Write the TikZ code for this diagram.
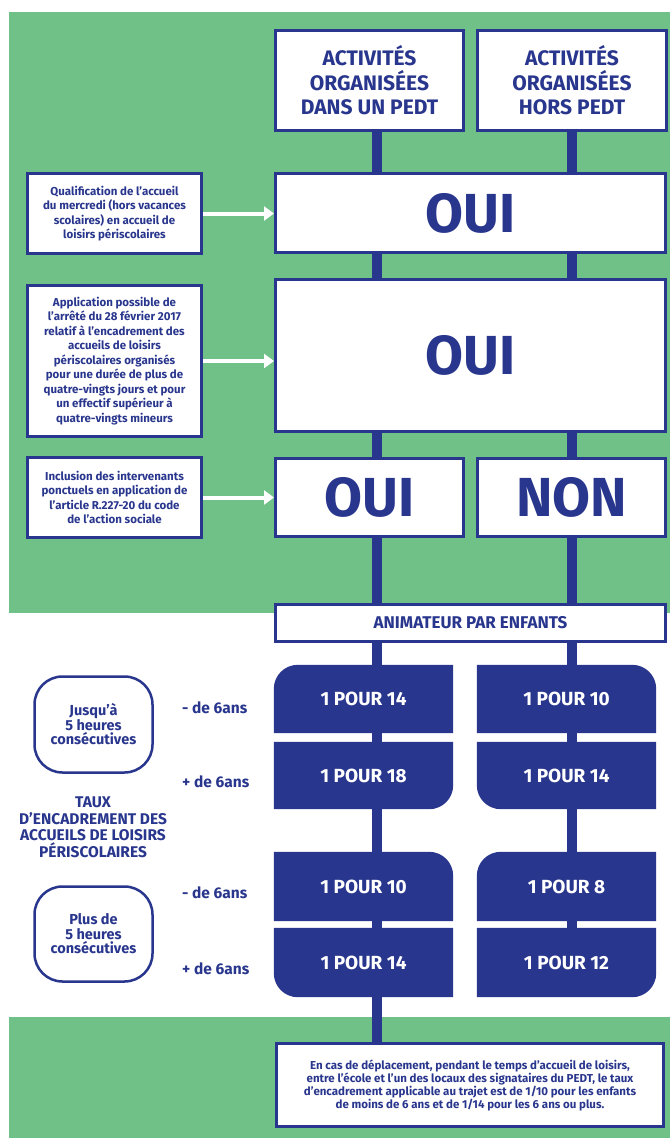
\documentclass[tikz,border=0pt]{standalone}
\usepackage{fontspec}
\setmainfont{Fira Sans}
\usetikzlibrary{arrows.meta}
\usetikzlibrary{backgrounds}
\definecolor{leafgreen}{RGB}{112,193,135}
\definecolor{inknavy}{RGB}{41,54,141}
\newcommand\fsz[2]{\fontsize{#1}{#2}\selectfont\bfseries}
\tikzset{>=Triangle}
\tikzset{
  whitebox/.style={draw=inknavy, line width=3pt, fill=white, inner sep=0pt,
    align=center, text=inknavy},
  headbox/.style={whitebox, minimum width=188pt, minimum height=100pt,
    font=\fsz{21}{24.5}},
  yesbox/.style={whitebox, font=\fsz{55}{60}},
  notebox/.style={whitebox, minimum width=174pt, font=\fsz{11.5}{14.5}},
  timebox/.style={draw=inknavy, line width=2.5pt, rounded corners=28pt,
    minimum width=118pt, inner sep=0pt, align=center, text=inknavy,
    font=\fsz{14.5}{14.5}},
  agetext/.style={anchor=west, inner sep=0pt, text=inknavy, font=\fsz{15.5}{17}},
  ratebox/.style={inner sep=0pt, minimum width=179pt, text=white,
    font=\fsz{19}{20}},
  link/.style={inknavy, line width=10pt},
  pointer/.style={white, line width=4pt, -{Triangle[length=10pt,width=14pt]}},
}

\begin{document}
\begin{tikzpicture}[x=1pt,y=1pt]
        \begin{scope}[on background layer]
          \fill[white] (0,0) rectangle (670,-1138);
          \fill[leafgreen] (9,-12) rectangle (670,-613);
          \fill[leafgreen] (9,-1017) rectangle (670,-1138);
        \end{scope}
        \useasboundingbox (0,0) rectangle (670,-1138);
        \coordinate (lx) at (377,0);
        \coordinate (rx) at (572,0);
        % colonnes
        \node [headbox] (hdA) at (369.5,-80.5) {ACTIVITÉS\\ORGANISÉES\\DANS UN PEDT};
        \node [headbox, minimum width=189pt] (hdB) at (572,-80.5) {ACTIVITÉS\\ORGANISÉES\\HORS PEDT};
        \node [yesbox, minimum width=390pt, minimum height=79pt] (oui1) at (470.5,-213) {OUI};
        \node [yesbox, minimum width=390pt, minimum height=152pt] (oui2) at (470.5,-355.5) {OUI};
        \node [yesbox, minimum width=188pt, minimum height=78pt] (oui3) at (369.5,-497.5) {OUI};
        \node [yesbox, minimum width=188pt, minimum height=78pt] (non) at (571.5,-497.5) {NON};
        \node [whitebox, minimum width=390pt, minimum height=37pt, font=\fsz{17}{18}] (anim) at (470.5,-623) {ANIMATEUR PAR ENFANTS};
        % questions
        \node [notebox, minimum height=80pt] (qual) at (114.5,-213.5) {Qualification de l’accueil\\du mercredi (hors vacances\\scolaires) en accueil de\\loisirs périscolaires};
        \node [notebox, minimum height=151pt] (appl) at (114.5,-361) {Application possible de\\l’arrêté du 28 février 2017\\relatif à l’encadrement des\\accueils de loisirs\\périscolaires organisés\\pour une durée de plus de\\quatre-vingts jours et pour\\un effectif supérieur à\\quatre-vingts mineurs};
        \node [notebox, minimum height=80pt] (incl) at (114.5,-497.5) {Inclusion des intervenants\\ponctuels en application de\\l’article R.227-20 du code\\de l’action sociale};
        \draw [pointer] (qual.east) -- (qual.east -| oui1.west);
        \draw [pointer] (appl.east) -- (appl.east -| oui2.west);
        \draw [pointer] (incl.east) -- (incl.east -| oui3.west);
        % taux
        \node [ratebox, minimum height=68pt] (d1) at (363.5,-699) {1 POUR 14};
        \node [ratebox, minimum height=67pt] (d2) at (363.5,-775.5) {1 POUR 18};
        \node [ratebox, minimum height=69pt] (d3) at (363.5,-886.5) {1 POUR 10};
        \node [ratebox, minimum height=69pt] (d4) at (363.5,-962.5) {1 POUR 14};
        \node [ratebox, minimum height=68pt] (h1) at (566.5,-699) {1 POUR 10};
        \node [ratebox, minimum height=67pt] (h2) at (566.5,-775.5) {1 POUR 14};
        \node [ratebox, minimum height=69pt] (h3) at (566.5,-886.5) {1 POUR 8};
        \node [ratebox, minimum height=69pt] (h4) at (566.5,-962.5) {1 POUR 12};
        \begin{scope}[on background layer]
          \foreach \n in {d1,h3}
            \fill[inknavy] (\n.south west) -- ([yshift=-24pt]\n.north west) arc[start angle=180,end angle=90,radius=24pt] -- (\n.north east) -- (\n.south east) -- cycle;
          \foreach \n in {h1,d3}
            \fill[inknavy] (\n.south west) -- (\n.north west) -- ([xshift=-24pt]\n.north east) arc[start angle=90,end angle=0,radius=24pt] -- (\n.south east) -- cycle;
          \foreach \n in {d2,h4}
            \fill[inknavy] (\n.north west) -- (\n.north east) -- ([yshift=24pt]\n.south east) arc[start angle=0,end angle=-90,radius=24pt] -- (\n.south west) -- cycle;
          \foreach \n in {h2,d4}
            \fill[inknavy] (\n.north west) -- (\n.north east) -- (\n.south east) -- ([xshift=24pt]\n.south west) arc[start angle=270,end angle=180,radius=24pt] -- cycle;
        \end{scope}
        \node [timebox, minimum height=96pt] (jus) at (93.5,-724.5) {Jusqu’à\\5 heures\\consécutives};
        \node [timebox, minimum height=95pt] (plus) at (93.5,-934) {Plus de\\5 heures\\consécutives};
        \node [agetext] (a1) at (182,-708) {- de 6ans};
        \node [agetext] (a2) at (182,-782) {+ de 6ans};
        \node [agetext] (a3) at (182,-893) {- de 6ans};
        \node [agetext] (a4) at (182,-969) {+ de 6ans};
        \node [align=center, text=inknavy, font=\fsz{15.5}{16.5}] (taux) at (93,-827) {TAUX\\D’ENCADREMENT DES\\ACCUEILS DE LOISIRS\\PÉRISCOLAIRES};
        % trajet
        \node [whitebox, minimum width=387pt, minimum height=83pt, font=\fsz{11.5}{11.2}] (fin) at (470,-1085) {En cas de déplacement, pendant le temps d’accueil de loisirs,\\entre l’école et l’un des locaux des signataires du PEDT, le taux\\d’encadrement applicable au trajet est de 1/10 pour les enfants\\de moins de 6 ans et de 1/14 pour les 6 ans ou plus.};
        % liaisons
        \foreach \a/\b in {hdA/oui1,oui1/oui2,oui2/oui3,oui3/anim,anim/d1,d1/d2,d2/d3,d3/d4,d4/fin}
          \draw [link] (lx |- \a.south) -- (lx |- \b.north);
        \foreach \a/\b in {hdB/oui1,oui1/oui2,oui2/non,non/anim,anim/h1,h1/h2,h2/h3,h3/h4}
          \draw [link] (rx |- \a.south) -- (rx |- \b.north);
      \end{tikzpicture}
\end{document}
